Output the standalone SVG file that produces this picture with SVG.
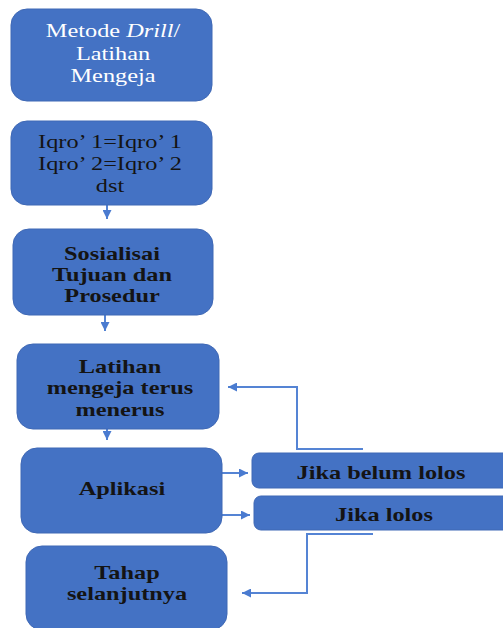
<svg xmlns="http://www.w3.org/2000/svg" width="503" height="628" viewBox="0 0 503 628">
<defs>
<style>
.box{fill:#4472C4;stroke:#3f68b5;stroke-width:1}
.t{font-family:"Liberation Serif","Times New Roman",serif;font-size:19px;text-anchor:middle;fill:#141414}
.b{font-weight:bold}
.w{fill:#ffffff}
.c{fill:none;stroke:#5584d4;stroke-width:2}
</style>
<marker id="ah" viewBox="0 0 10 10" refX="10" refY="5" markerWidth="9" markerHeight="9" markerUnits="userSpaceOnUse" orient="auto">
<path d="M0,0 L10,5 L0,10 z" fill="#4a7bd0"/>
</marker>
</defs>
<rect width="503" height="628" fill="#ffffff"/>
<g id="connectors">
<path class="c" d="M107,205 V219" marker-end="url(#ah)"/>
<path class="c" d="M105,315 V331" marker-end="url(#ah)"/>
<path class="c" d="M107,429 V440" marker-end="url(#ah)"/>
<path class="c" d="M222,473 H248" marker-end="url(#ah)"/>
<path class="c" d="M222,515 H250" marker-end="url(#ah)"/>
<path class="c" d="M363,449 H297 V387 H228" marker-end="url(#ah)"/>
<path class="c" d="M373,534 H307 V593 H242" marker-end="url(#ah)"/>
</g>
<g id="n1">
<rect class="box" x="11" y="9" width="201" height="92" rx="16"/>
<text class="t w" transform="translate(113,37) scale(1.28,1)">Metode <tspan font-style="italic">Drill</tspan>/</text>
<text class="t w" transform="translate(113,60) scale(1.28,1)">Latihan</text>
<text class="t w" transform="translate(113,82) scale(1.28,1)">Mengeja</text>
</g>
<g id="n2">
<rect class="box" x="11" y="121" width="201" height="84" rx="16"/>
<text class="t" transform="translate(110,148) scale(1.28,1)">Iqro’ 1=Iqro’ 1</text>
<text class="t" transform="translate(110,170) scale(1.28,1)">Iqro’ 2=Iqro’ 2</text>
<text class="t" transform="translate(110,192) scale(1.28,1)">dst</text>
</g>
<g id="n3">
<rect class="box" x="13" y="229" width="200" height="86" rx="16"/>
<text class="t b" transform="translate(112,260) scale(1.28,1)">Sosialisai</text>
<text class="t b" transform="translate(112,281) scale(1.28,1)">Tujuan dan</text>
<text class="t b" transform="translate(112,302) scale(1.28,1)">Prosedur</text>
</g>
<g id="n4">
<rect class="box" x="17" y="344" width="202" height="85" rx="16"/>
<text class="t b" transform="translate(120,373) scale(1.28,1)">Latihan</text>
<text class="t b" transform="translate(120,394) scale(1.28,1)">mengeja terus</text>
<text class="t b" transform="translate(120,416) scale(1.28,1)">menerus</text>
</g>
<g id="n5">
<rect class="box" x="21" y="448" width="201" height="85" rx="16"/>
<text class="t b" transform="translate(122,495) scale(1.28,1)">Aplikasi</text>
</g>
<g id="n6">
<rect class="box" x="252" y="453" width="262" height="35" rx="7"/>
<text class="t b" transform="translate(381,479) scale(1.28,1)">Jika belum lolos</text>
</g>
<g id="n7">
<rect class="box" x="254" y="496" width="262" height="34" rx="7"/>
<text class="t b" transform="translate(384,521) scale(1.28,1)">Jika lolos</text>
</g>
<g id="n8">
<rect class="box" x="26" y="546" width="201" height="84" rx="16"/>
<text class="t b" transform="translate(127,579) scale(1.28,1)">Tahap</text>
<text class="t b" transform="translate(127,600) scale(1.28,1)">selanjutnya</text>
</g>
</svg>
